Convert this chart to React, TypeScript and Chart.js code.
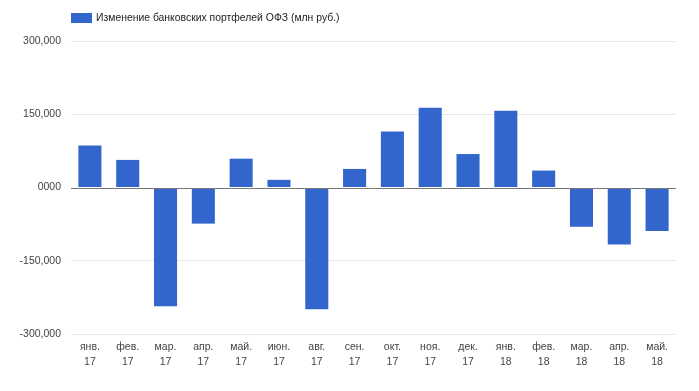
import React, { useEffect, useRef } from "react";
import { Chart, registerables } from "chart.js";

Chart.register(...registerables);

const categories: string[][] = [
  ["янв.", "17"], ["фев.", "17"], ["мар.", "17"], ["апр.", "17"],
  ["май.", "17"], ["июн.", "17"], ["авг.", "17"], ["сен.", "17"],
  ["окт.", "17"], ["ноя.", "17"], ["дек.", "17"], ["янв.", "18"],
  ["фев.", "18"], ["мар.", "18"], ["апр.", "18"], ["май.", "18"],
];

const seriesName = "Изменение банковских портфелей ОФЗ (млн руб.)";

const values: number[] = [
  86000, 56500, -243000, -74000, 59000, 15700, -249500, 38000,
  114500, 163500, 68500, 157000, 34700, -80500, -116500, -89000,
];

const yTicks: number[] = [-300000, -150000, 0, 150000, 300000];
const yTickLabels: string[] = ["-300,000", "-150,000", "0000", "150,000", "300,000"];

const FONT = "'Liberation Sans', Arial, sans-serif";
const BAR_COLOR = "#3366cc";

export default function App() {
  const ref = useRef<HTMLCanvasElement | null>(null);

  useEffect(() => {
    if (!ref.current) return;

    const legendPlugin = {
      id: "customLegend",
      afterDraw(chart: any) {
        const ctx = chart.ctx;
        const left = chart.chartArea.left;
        ctx.save();
        ctx.fillStyle = BAR_COLOR;
        ctx.fillRect(left, 13, 21, 10);
        ctx.fillStyle = "#222222";
        ctx.font = `10.4px ${FONT}`;
        ctx.textBaseline = "middle";
        ctx.textAlign = "left";
        ctx.fillText(seriesName, left + 25, 18.5);
        ctx.restore();
      },
    };

    const zeroLinePlugin = {
      id: "zeroLine",
      afterDatasetsDraw(chart: any) {
        const y = Math.round(chart.scales.y.getPixelForValue(0)) + 0.5;
        const { left, right } = chart.chartArea;
        const ctx = chart.ctx;
        ctx.save();
        ctx.strokeStyle = "#777777";
        ctx.lineWidth = 1;
        ctx.beginPath();
        ctx.moveTo(left, y);
        ctx.lineTo(right, y);
        ctx.stroke();
        ctx.restore();
      },
    };

    const chart = new Chart(ref.current, {
      type: "bar",
      data: {
        labels: categories,
        datasets: [
          {
            label: seriesName,
            data: values,
            backgroundColor: BAR_COLOR,
            borderWidth: 0,
            barPercentage: 0.61,
            categoryPercentage: 1,
          },
        ],
      },
      options: {
        responsive: false,
        animation: false,
        layout: { padding: { top: 41, right: 23, bottom: 0, left: 0 } },
        plugins: {
          legend: { display: false },
          tooltip: { enabled: false },
        },
        scales: {
          x: {
            grid: { display: false, drawTicks: false },
            border: { display: false },
            ticks: {
              color: "#444444",
              font: { family: FONT, size: 10.5, lineHeight: 1.45 },
              padding: 5,
              maxRotation: 0,
              autoSkip: false,
            },
            afterFit(scale: any) {
              scale.height = 57;
            },
          },
          y: {
            min: -300000,
            max: 300000,
            afterBuildTicks(scale: any) {
              scale.ticks = yTicks.map((v) => ({ value: v }));
            },
            grid: {
              drawTicks: false,
              color: (c: any) => (c.tick && c.tick.value === 0 ? "rgba(0,0,0,0)" : "#e6e6e6"),
            },
            border: { display: false },
            ticks: {
              color: "#444444",
              font: { family: FONT, size: 10.5 },
              padding: 10,
              callback: (v: any) => {
                const i = yTicks.indexOf(Number(v));
                return i >= 0 ? yTickLabels[i] : "";
              },
            },
            afterFit(scale: any) {
              scale.width = 71;
            },
          },
        },
      },
      plugins: [legendPlugin, zeroLinePlugin],
    });

    return () => chart.destroy();
  }, []);

  return (
    <div style={{ position: "fixed", left: 0, top: 0, width: 699, height: 391, background: "#fff" }}>
      <canvas ref={ref} width={699} height={391} style={{ display: "block" }} />
    </div>
  );
}
